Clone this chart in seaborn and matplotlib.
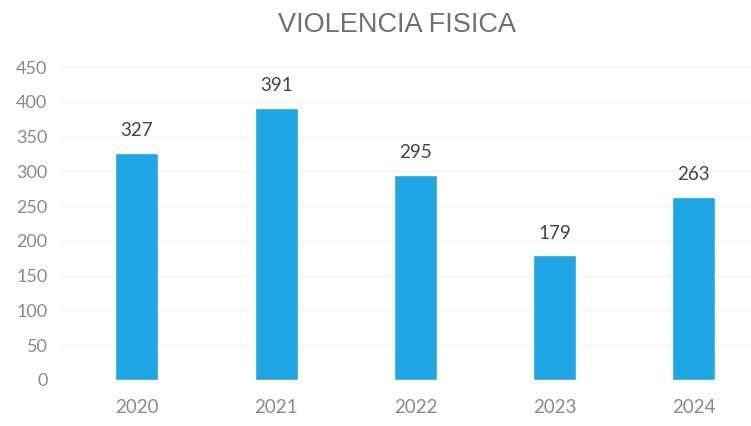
import matplotlib
matplotlib.use("Agg")
import matplotlib.pyplot as plt
import seaborn as sns
import pandas as pd

# -----------------------------
# DATA
# -----------------------------
years = ["2020", "2021", "2022", "2023", "2024"]
cases = [327, 391, 295, 179, 263]
y_ticks = [0, 50, 100, 150, 200, 250, 300, 350, 400, 450]

df = pd.DataFrame({"Year": years, "Cases": cases})

# -----------------------------
# STYLE
# -----------------------------
sns.set_style("white")
plt.rcParams["font.family"] = ["Lato", "DejaVu Sans"]

bar_color = "#1fa6e4"

# -----------------------------
# PLOT
# -----------------------------
fig = plt.figure(figsize=(7.51, 4.26), dpi=100)
ax = fig.add_axes([60 / 751, 46 / 426, 691 / 751, 313 / 426])

sns.barplot(data=df, x="Year", y="Cases", color=bar_color, width=0.31,
            saturation=1, ax=ax, zorder=3)

ax.set_ylim(0, 450)
ax.set_xlim(-0.552, 4.41)
ax.set_yticks(y_ticks)
ax.grid(axis="y", color="#f3f3f3", linewidth=0.8, zorder=0)
for s in ax.spines.values():
    s.set_visible(False)

ax.tick_params(axis="y", length=0, pad=9, labelsize=13, labelcolor="#8a8a8a")
ax.tick_params(axis="x", length=0, pad=14, labelsize=13.5, labelcolor="#8a8a8a")
ax.set_xlabel("")
ax.set_ylabel("")

for i, v in enumerate(cases):
    ax.annotate(str(v), (i, v), xytext=(0, 10), textcoords="offset points",
                ha="center", va="bottom", fontsize=13.5, color="#444444")

fig.text(397 / 751, 1 - 25 / 426, "VIOLENCIA FISICA", ha="center", va="center",
         fontsize=19.5, color="#707070", family=["Liberation Sans", "DejaVu Sans"])

fig.savefig("out.png", dpi=100)
